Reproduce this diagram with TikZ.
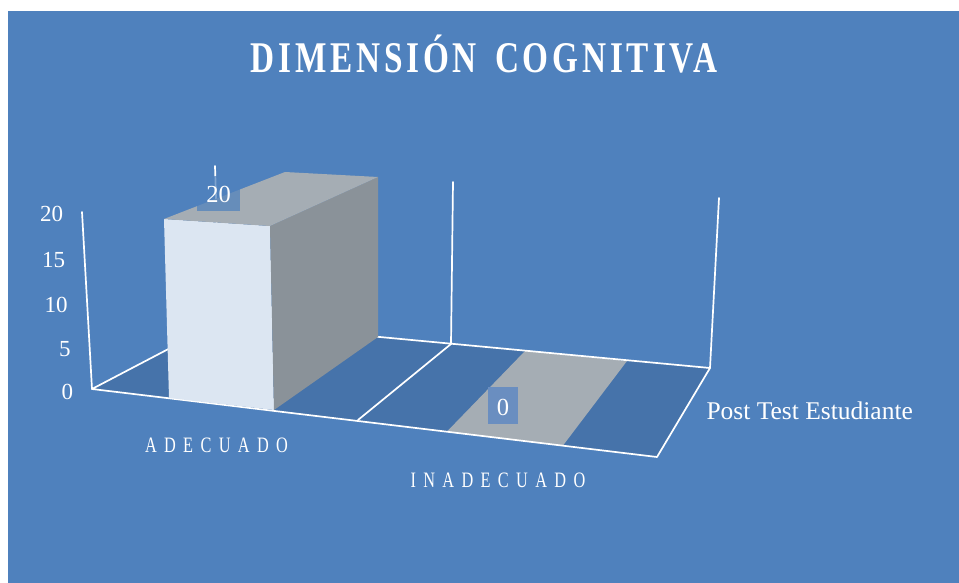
\documentclass[tikz,border=0pt]{standalone}
\usepackage{fontspec}
\setmainfont{Liberation Serif}
\newfontfamily\titlefont[FakeStretch=0.76,LetterSpace=8.7]{Liberation Serif}
\newfontfamily\catfont[FakeStretch=0.74,LetterSpace=33.5]{Liberation Serif}
\definecolor{bgblue}{HTML}{4F81BD}
\definecolor{floorblue}{HTML}{4673AA}
\definecolor{frontface}{HTML}{DCE6F2}
\definecolor{sideface}{HTML}{8A9299}
\definecolor{topface}{HTML}{A5ADB4}
\definecolor{lblbox}{HTML}{6A8EC0}
\tikzset{
  wline/.style={draw=white, line width=1.7pt, line cap=round, line join=round},
  txt/.style={text=white, inner sep=0pt, outer sep=0pt},
  tick/.style={txt, anchor=base east, font=\fontsize{23}{27}\selectfont},
  datalbl/.style={txt, anchor=base, font=\fontsize{24.5}{28}\selectfont},
  catlbl/.style={txt, anchor=base west, font=\catfont\fontsize{22}{26}\selectfont},
}
\begin{document}
\begin{tikzpicture}[x=1pt,y=-1pt]
\useasboundingbox (0,0) rectangle (959,583);
\fill[white] (0,0) rectangle (959,583);
\fill[bgblue] (8,11) rectangle (959,583);

% floor
\coordinate (A) at (92,389);
\coordinate (B) at (657,457);
\coordinate (C) at (710,368);
\coordinate (D) at (220,322);
\coordinate (M1) at (451,344);
\coordinate (M2) at (358,420);
\fill[floorblue] (A) -- (B) -- (C) -- (D) -- cycle;
% zero bar strip
\fill[topface] (525,351) -- (627,361) -- (563,445.5) -- (447,431.5) -- cycle;
% floor outline
\draw[wline] (D) -- (A) -- (B) -- (C) -- cycle;
\draw[wline] (M1) -- (M2);
% vertical wall lines
\coordinate (At) at (82,212);
\coordinate (Dt) at (215,166);
\coordinate (Mt) at (453,182);
\coordinate (Ct) at (719,198);
\draw[wline] (A) -- (At);
\draw[wline] (D) -- (Dt);
\draw[wline] (M1) -- (Mt);
\draw[wline] (C) -- (Ct);

% bar 20
\coordinate (F1) at (164,219);
\coordinate (F2) at (270,226);
\coordinate (F3) at (274,410);
\coordinate (F4) at (169,398);
\coordinate (K1) at (285,172);
\coordinate (K2) at (378,177);
\coordinate (K3) at (378,337);
\fill[frontface] (F1) -- (F2) -- (F3) -- (F4) -- cycle;
\fill[sideface] (F2) -- (K2) -- (K3) -- (F3) -- cycle;
\fill[topface] (F1) -- (K1) -- (K2) -- (F2) -- cycle;

% data labels
\fill[bgblue, fill opacity=0.72] (197,176) rectangle (240,211);
\node[datalbl] (v20) at (218.5,202) {20};
\fill[lblbox] (488,387) rectangle (518,424);
\node[datalbl] (v0) at (503,415) {0};

% axis ticks
\node[tick] (t20) at (63,221.5) {20};
\node[tick] (t15) at (65,267.5) {15};
\node[tick] (t10) at (67.5,312.5) {10};
\node[tick] (t5) at (70.5,356.5) {5};
\node[tick] (t0) at (73,399.5) {0};

% category labels
\node[catlbl] (c1) at (145,452.3) {ADECUADO};
\node[catlbl] (c2) at (410.5,487.3) {INADECUADO};
\node[txt, anchor=base west, font=\fontsize{25.5}{30}\selectfont] (ser) at (706.5,419) {Post Test Estudiante};

% title
\node[txt, anchor=base west, font=\titlefont\bfseries\fontsize{43.8}{50}\selectfont] (ttl) at (250.5,72.7) {DIMENSIÓN\hspace{6pt} COGNITIVA};
\end{tikzpicture}
\end{document}
